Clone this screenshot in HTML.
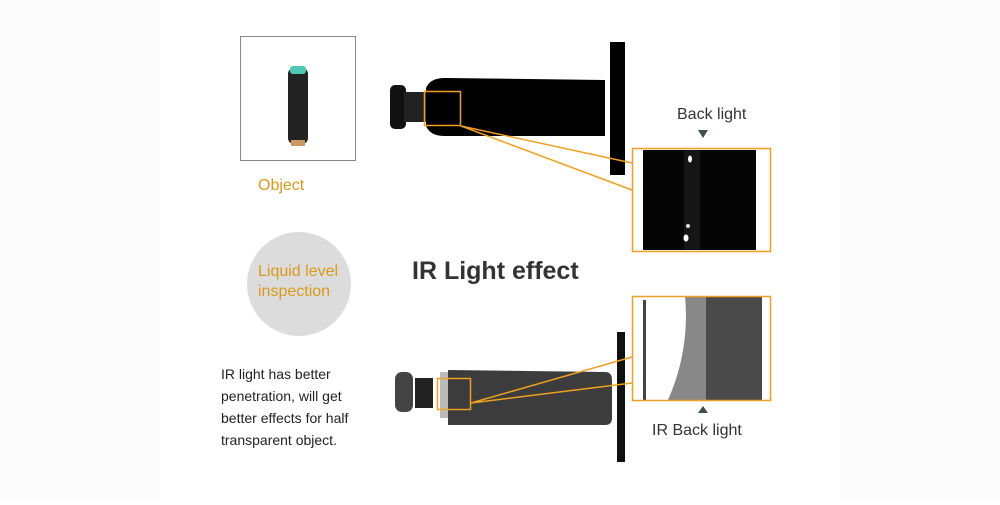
<!DOCTYPE html>
<html><head><style>
body{margin:0;width:1000px;height:500px;background:#fff;overflow:hidden;font-family:"Liberation Sans",sans-serif}
</style></head><body>
<svg width="1000" height="500" viewBox="0 0 1000 500" xmlns="http://www.w3.org/2000/svg" font-family="Liberation Sans, sans-serif">
<rect x="0" y="0" width="160" height="500" fill="#fbfbfb"/>
<rect x="840" y="0" width="160" height="500" fill="#fbfbfb"/>
<rect x="240.5" y="36.5" width="115" height="124" fill="#fff" stroke="#888"/>
<rect x="288" y="68" width="20" height="76" rx="6" fill="#222"/>
<rect x="290" y="66" width="16" height="8" rx="3" fill="#4cc9b5"/>
<rect x="291" y="140" width="14" height="6" fill="#c96"/>
<text x="258" y="190" font-size="16" fill="#d89a1a">Object</text>
<circle cx="299" cy="284" r="52" fill="#dcdcdc"/>
<text x="258" y="276" font-size="16" fill="#d89a1a">Liquid level</text>
<text x="258" y="296" font-size="16" fill="#d89a1a">inspection</text>
<g font-size="14" fill="#222">
<text x="221" y="379">IR light has better</text>
<text x="221" y="401">penetration, will get</text>
<text x="221" y="423">better effects for half</text>
<text x="221" y="445">transparent object.</text>
</g>
<text x="412" y="279" font-size="25" font-weight="bold" fill="#333">IR Light effect</text>
<rect x="390" y="85" width="16" height="44" rx="5" fill="#111"/>
<rect x="404" y="92" width="22" height="30" fill="#222"/>
<path d="M426 88 Q430 78 445 78 L605 80 L605 136 L445 136 Q430 136 426 126 Z" fill="#000"/>
<rect x="610" y="42" width="15" height="133" fill="#000"/>
<rect x="424.5" y="91.5" width="36" height="34" fill="none" stroke="#f0a020" stroke-width="1.5"/>
<path d="M461 126 L632 163 M461 126 L632 190" stroke="#f0a020" stroke-width="1.5" fill="none"/>
<rect x="632.5" y="148.5" width="138" height="103" fill="none" stroke="#f0a020" stroke-width="1.5"/>
<rect x="643" y="150" width="113" height="100" fill="#050505"/>
<rect x="684" y="150" width="16" height="100" fill="#151515"/>
<ellipse cx="690" cy="159" rx="2" ry="3.5" fill="#fff"/><ellipse cx="686" cy="238" rx="2.5" ry="3.5" fill="#fff"/><circle cx="688" cy="226" r="2" fill="#ddd"/>
<text x="677" y="119" font-size="16" fill="#333">Back light</text>
<path d="M698 130 L708 130 L703 138 Z" fill="#3d4f4f"/>
<rect x="395" y="372" width="18" height="40" rx="7" fill="#444"/>
<rect x="415" y="378" width="18" height="30" fill="#222"/>
<rect x="440" y="372" width="12" height="46" fill="#bbb"/>
<path d="M448 370 L605 372 Q612 372 612 380 L612 418 Q612 425 605 425 L448 425 Z" fill="#3c3c3c"/>
<rect x="617" y="332" width="8" height="130" fill="#111"/>
<rect x="437.5" y="378.5" width="33" height="31" fill="none" stroke="#f0a020" stroke-width="1.5"/>
<path d="M471 403 L632 357 M471 403 L632 383" stroke="#f0a020" stroke-width="1.5" fill="none"/>
<rect x="641" y="296" width="121" height="104" fill="#fff"/>
<rect x="706" y="296" width="56" height="104" fill="#4a4a4a"/>
<path d="M685 296 L706 296 L706 400 L668 400 Q690 350 685 296 Z" fill="#888"/>
<rect x="643" y="300" width="3" height="100" fill="#444"/>
<rect x="632.5" y="296.5" width="138" height="104" fill="none" stroke="#f0a020" stroke-width="1.5"/>
<path d="M698 413 L708 413 L703 406 Z" fill="#3d4f4f"/>
<text x="652" y="435" font-size="16" fill="#333">IR Back light</text>
</svg>
</body></html>
